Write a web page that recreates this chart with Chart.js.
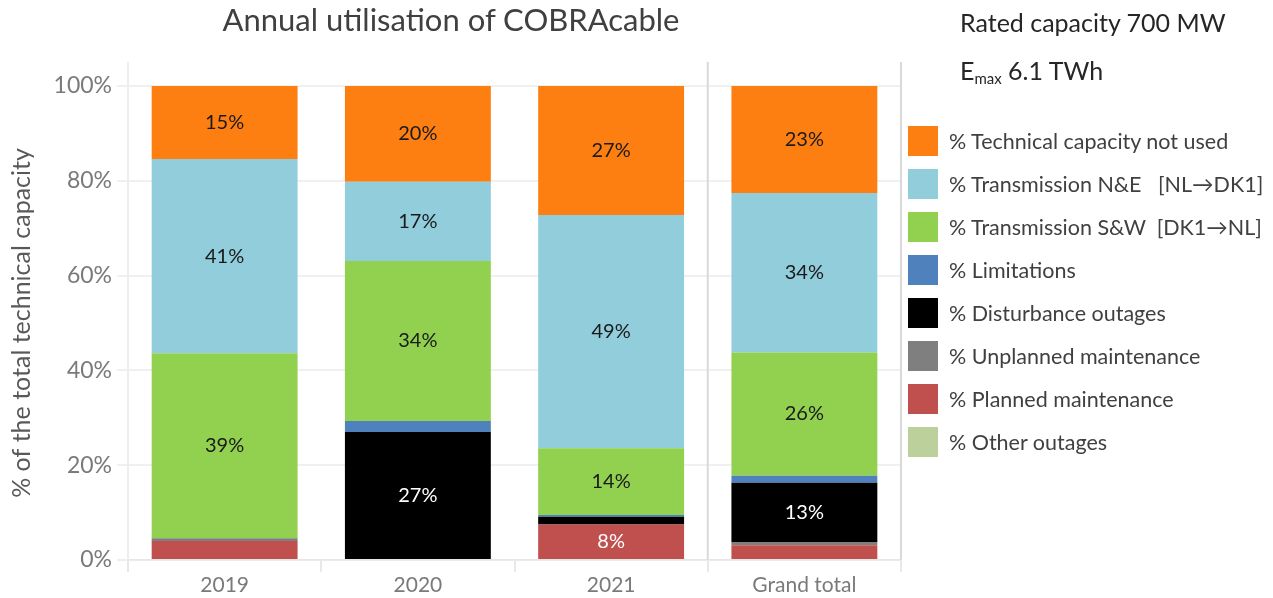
<!DOCTYPE html>
<html>
<head>
<meta charset="utf-8">
<script src="https://cdn.jsdelivr.net/npm/chart.js@4.4.1/dist/chart.umd.min.js"></script>
<style>
    body { margin: 0; background: #fff; font-family: Lato, "Open Sans", sans-serif; }
    #wrap { position: relative; width: 1273px; height: 598px; }
    #chart-title { position: absolute; top: 0px; left: 451px; transform: translateX(-50%); font-size: 31px; color: #404040; white-space: nowrap; }
    .side-note { position: absolute; left: 960px; font-size: 25px; color: #262626; white-space: nowrap; }
    .side-note sub { font-size: 15px; vertical-align: -4px; }
    #legend { position: absolute; left: 908px; top: 119px; }
    .legend-item { display: flex; align-items: center; height: 43px; }
    .legend-item span.box { width: 30px; height: 30px; margin-right: 11px; flex: none; }
    .legend-item span.txt { font-size: 21.5px; color: #404040; white-space: pre; }
</style>
</head>
<body>
<div id="wrap">
    <canvas id="utilChart" width="1273" height="598"></canvas>
    <div id="chart-title">Annual utilisation of COBRAcable</div>
    <div class="side-note" style="top: 7px;">Rated capacity 700 MW</div>
    <div class="side-note" style="top: 55px;">E<sub>max</sub> 6.1 TWh</div>
    <div id="legend"></div>
</div>
<script>
// categories and series, in % of total technical capacity (bottom of stack first)
const categories = ['2019', '2020', '2021', 'Grand total'];
const otherOutages = [0, 0, 0, 0];
const plannedMaintenance = [4.0, 0, 7.5, 3.1];
const unplannedMaintenance = [0.6, 0.2, 0, 0.6];
const disturbanceOutages = [0, 26.8, 1.6, 12.6];
const limitations = [0, 2.3, 0.4, 1.5];
const transmissionSW = [39.0, 33.8, 14.1, 26.0];
const transmissionNE = [41.0, 16.7, 49.2, 33.6];
const capacityNotUsed = [15.4, 20.2, 27.2, 22.6];
const yTicks = [0, 20, 40, 60, 80, 100];

const seriesDefs = [
    { label: '% Other outages', data: otherOutages, color: '#BBD09A', text: '#000' },
    { label: '% Planned maintenance', data: plannedMaintenance, color: '#C0504D', text: '#fff' },
    { label: '% Unplanned maintenance', data: unplannedMaintenance, color: '#7F7F7F', text: '#fff' },
    { label: '% Disturbance outages', data: disturbanceOutages, color: '#000000', text: '#fff' },
    { label: '% Limitations', data: limitations, color: '#4F81BD', text: '#fff' },
    { label: '% Transmission S&W  [DK1\u2192NL]', data: transmissionSW, color: '#92D050', text: '#1a1a1a' },
    { label: '% Transmission N&E   [NL\u2192DK1]', data: transmissionNE, color: '#92CDDC', text: '#1a1a1a' },
    { label: '% Technical capacity not used', data: capacityNotUsed, color: '#FD7F12', text: '#1a1a1a' },
];

// value labels inside the segments (only the larger ones)
const segmentLabels = {
    id: 'segmentLabels',
    afterDatasetsDraw(chart) {
        const ctx = chart.ctx;
        ctx.save();
        ctx.font = '20px Lato, "Open Sans", sans-serif';
        ctx.textAlign = 'center';
        ctx.textBaseline = 'middle';
        chart.data.datasets.forEach((ds, i) => {
            const meta = chart.getDatasetMeta(i);
            meta.data.forEach((bar, j) => {
                const v = ds.data[j];
                if (v < 5) return;
                const p = bar.getCenterPoint();
                ctx.fillStyle = ds.labelColor;
                ctx.fillText(Math.round(v) + '%', p.x, p.y);
            });
        });
        ctx.restore();
    }
};

// vertical lines: left axis, separator before "Grand total", right edge
const separators = {
    id: 'separators',
    beforeDatasetsDraw(chart) {
        const { ctx, chartArea, scales } = chart;
        const lines = [
            { at: -0.5, color: '#eeeeee' },
            { at: categories.length - 1.5, color: '#d9d9d9' },
            { at: categories.length - 0.5, color: '#d9d9d9' },
        ];
        ctx.save();
        ctx.lineWidth = 2;
        lines.forEach(l => {
            const x = scales.x.getPixelForValue(l.at);
            ctx.strokeStyle = l.color;
            ctx.beginPath();
            ctx.moveTo(x, chartArea.top - 24);
            ctx.lineTo(x, chartArea.bottom);
            ctx.stroke();
        });
        ctx.restore();
    }
};

function buildLegend() {
    const legend = document.getElementById('legend');
    legend.innerHTML = seriesDefs.slice().reverse().map(s =>
        `<div class="legend-item"><span class="box" style="background:${s.color}"></span><span class="txt">${s.label.replace(/&/g, '&amp;')}</span></div>`
    ).join('');
}

function renderChart() {
    const ctx = document.getElementById('utilChart').getContext('2d');
    new Chart(ctx, {
        type: 'bar',
        data: {
            labels: categories,
            datasets: seriesDefs.map(s => ({
                label: s.label,
                data: s.data,
                backgroundColor: s.color,
                labelColor: s.text,
                barPercentage: 0.755,
                categoryPercentage: 1,
                borderWidth: 0,
            }))
        },
        options: {
            responsive: false,
            animation: false,
            layout: { padding: { top: 86, right: 372, left: 0, bottom: 0 } },
            plugins: { legend: { display: false }, tooltip: { enabled: false } },
            scales: {
                x: {
                    stacked: true,
                    grid: { drawOnChartArea: false, drawTicks: true, tickLength: 12, color: '#e8e8e8', lineWidth: 2, offset: true },
                    border: { display: true, color: '#e6e6e6', dash: [4, 3], width: 1.5 },
                    ticks: { font: { family: 'Lato', size: 21 }, color: '#7a7a7a', padding: 1 },
                    afterFit: scale => { scale.height = 38; }
                },
                y: {
                    stacked: true,
                    min: yTicks[0],
                    max: yTicks[yTicks.length - 1],
                    afterBuildTicks: scale => { scale.ticks = yTicks.map(v => ({ value: v })); },
                    grid: { color: '#f0f0f0', lineWidth: 2, tickLength: 11 },
                    border: { display: false },
                    ticks: { font: { family: 'Lato', size: 23 }, color: '#7a7a7a', padding: 5, callback: v => v + '%' },
                    title: { display: true, text: '% of the total technical capacity', font: { family: 'Lato', size: 25 }, color: '#595959', padding: { top: 7, bottom: 0 } },
                    afterFit: scale => { scale.width = 128; }
                }
            }
        },
        plugins: [separators, segmentLabels]
    });
}

buildLegend();
renderChart();
</script>
</body>
</html>
